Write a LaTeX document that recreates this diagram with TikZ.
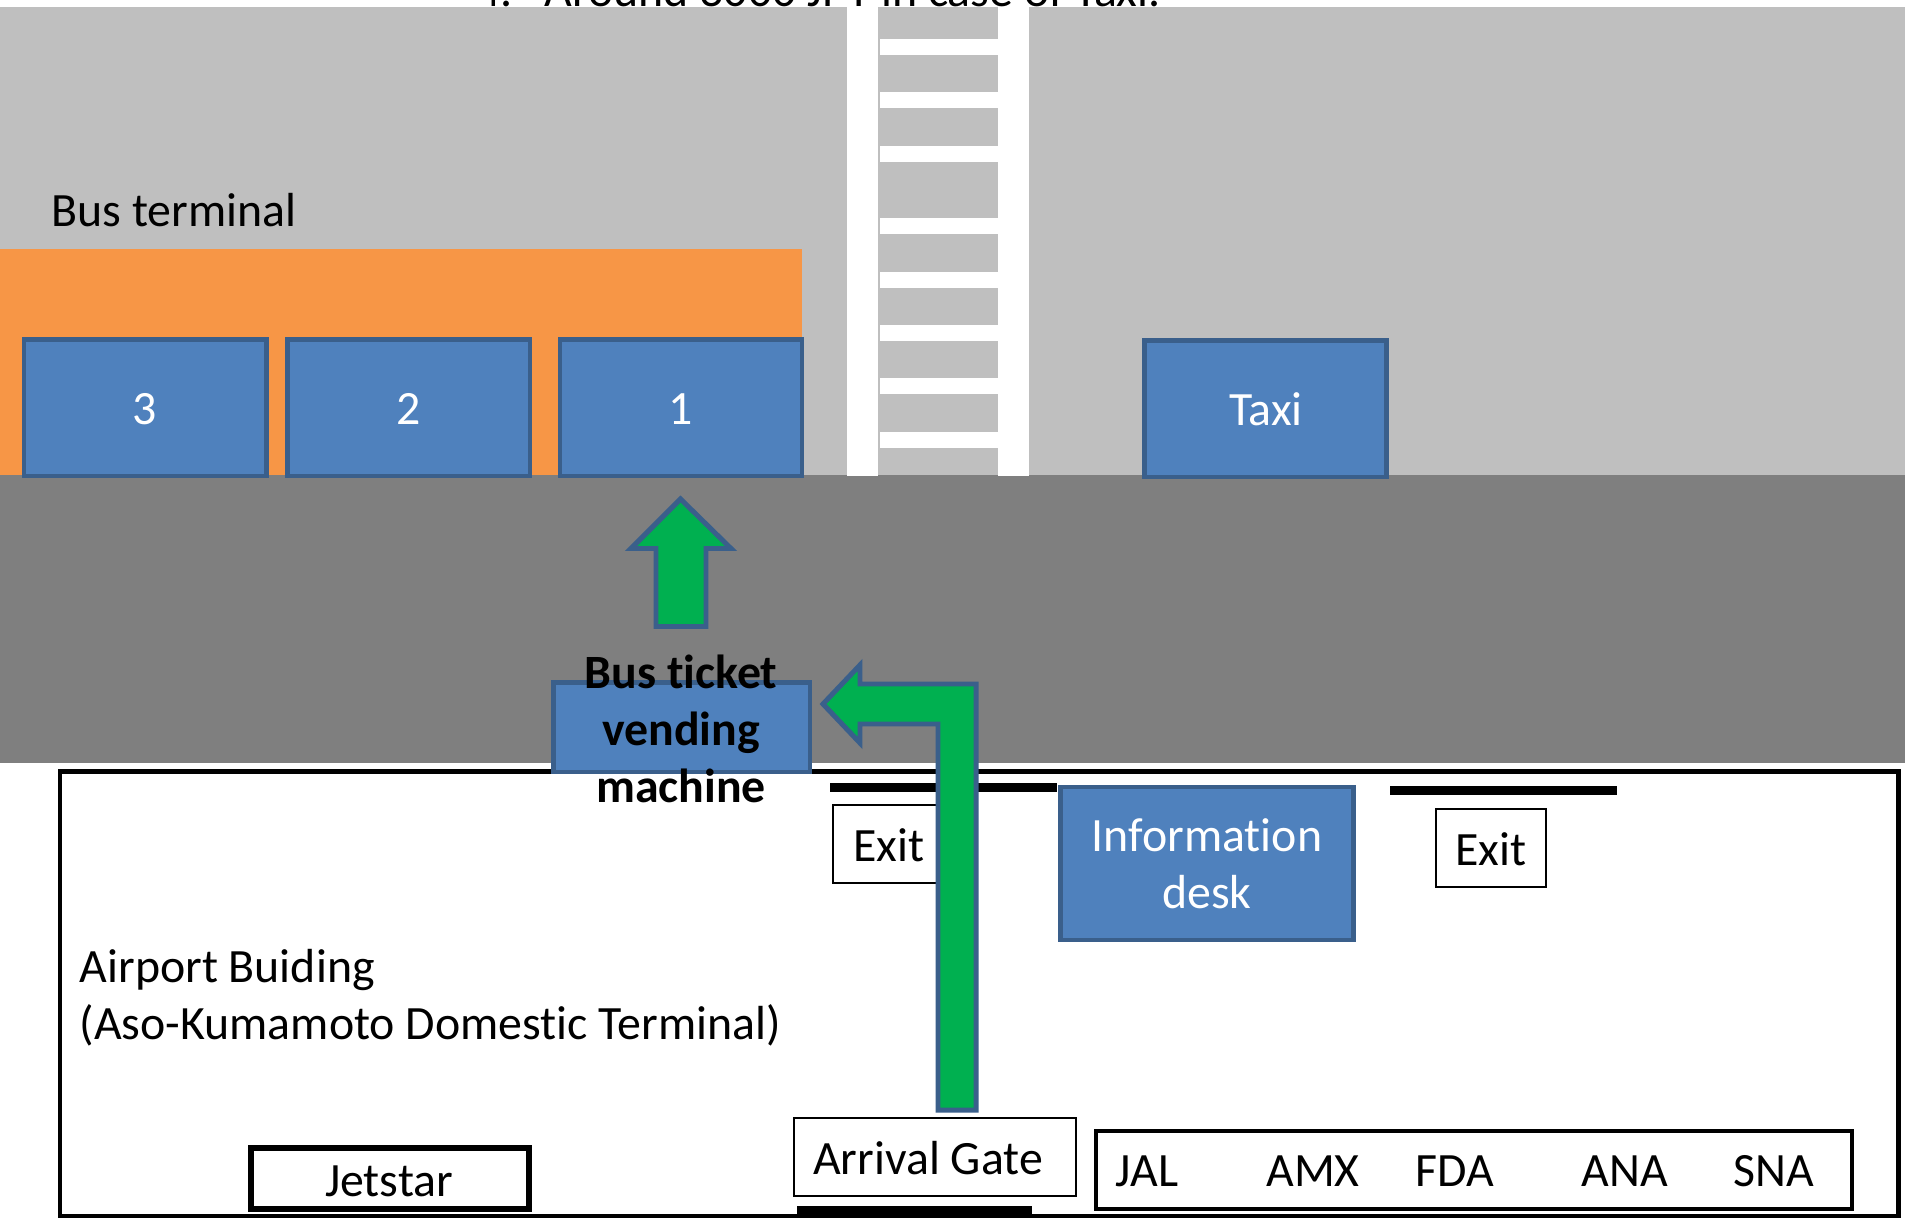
\documentclass[tikz,border=0pt]{standalone}
\usepackage{fontspec}
\setmainfont[Ligatures=NoCommon]{Carlito}
\definecolor{road}{HTML}{BFBFBF}
\definecolor{lobby}{HTML}{7F7F7F}
\definecolor{bay}{HTML}{F79646}
\definecolor{boxfill}{HTML}{4F81BD}
\definecolor{boxline}{HTML}{3A5F8B}
\definecolor{go}{HTML}{00B050}
\tikzset{
  x=0.01cm,y=-0.01cm,
  px/.style={line width=#1*0.2835pt},
  lbl/.style={font=\fontsize{13.6pt}{16.2pt}\selectfont,inner sep=0pt,align=center},
  lblw/.style={lbl,text=white},
  blue box/.style={draw=boxline,fill=boxfill,px=5,line join=miter},
  arrowshape/.style={draw=boxline,fill=go,px=5,line join=miter},
  whitebox/.style={draw=black,fill=white},
  bar/.style={fill=black,draw=none}
}
\begin{document}
\begin{tikzpicture}
\useasboundingbox (0,0) rectangle (1905,1218);
\fill[white] (0,0) rectangle (1905,1218);
% text cut off at the top, as in the reference
\node[anchor=base west,inner sep=0pt,font=\fontsize{13.6pt}{16.2pt}\selectfont] (toptext) at (476,6.5) {4.\hspace{9pt}Around 3000 JPY in case of Taxi.};
% ground
\fill[road] (0,7) rectangle (1905,475);
\fill[lobby] (0,475) rectangle (1905,763);
\fill[bay] (0,249) rectangle (802,475);
% crossing
\fill[white] (847,7) rectangle (878,476);
\fill[white] (998,7) rectangle (1029,476);
\foreach \ya/\yb in {39/55,92/108,146/162,218/234,272/288,325/341,378/394,432/448}
  \fill[white] (880,\ya) rectangle (998,\yb);
% bays
\node[lbl,anchor=west] (busterm) at (51,210) {Bus terminal};
\draw[blue box] (24,339.5) rectangle (266.5,476);
\node[lblw] (b3) at (145,409) {3};
\draw[blue box] (287.5,339.5) rectangle (530,476);
\node[lblw] (b2) at (409,409) {2};
\draw[blue box] (560,339.5) rectangle (802,476);
\node[lblw] (b1) at (681,409) {1};
\draw[blue box] (1144.5,340.5) rectangle (1386.5,477);
\node[lblw] (taxi) at (1266,409) {Taxi};
% building
\draw[draw=black,fill=white,px=5] (60,771.5) rectangle (1898,1216);
\fill[bar] (830,783) rectangle (1057,792);
\fill[bar] (1390,786) rectangle (1617,795);
\fill[bar] (797,1206) rectangle (1032,1216);
\node[whitebox,px=2,minimum width=112*0.01cm,minimum height=78*0.01cm,inner sep=0pt] (exit1) at (889,844) {};
\node[lbl] (exit1t) at (889,845) {Exit};
\node[whitebox,px=2,minimum width=110*0.01cm,minimum height=78*0.01cm,inner sep=0pt] (exit2) at (1491,848) {};
\node[lbl] (exit2t) at (1491,849) {Exit};
\draw[blue box] (1060,787) rectangle (1353,940);
\node[lblw] (info) at (1207,864) {Information\\desk};
\node[lbl,align=left,anchor=west] (bld) at (79,998) {Airport Buiding\\(Aso-Kumamoto Domestic Terminal)};
\draw[black,fill=white,px=5.5] (251,1148) rectangle (529,1209);
\node[lbl] (jet) at (389,1181) {Jetstar};
\draw[black,fill=white,px=2] (794,1118) rectangle (1076,1196);
\node[lbl] (gate) at (928,1158) {Arrival Gate};
\draw[black,fill=white,px=4] (1096,1131) rectangle (1852,1209);
\node[lbl] (jal) at (1147,1171) {JAL};
\node[lbl] (amx) at (1313,1171) {AMX};
\node[lbl] (fda) at (1455,1171) {FDA};
\node[lbl] (ana) at (1625,1171) {ANA};
\node[lbl] (sna) at (1774,1171) {SNA};
% ticket machine
\draw[blue box] (553.5,682.5) rectangle (810,772);
\node[lbl,font=\fontsize{13.6pt}{16.2pt}\selectfont\bfseries] (ticket) at (681,729) {Bus ticket\\vending\\machine};
% arrows
\draw[arrowshape] (680.5,499) -- (731,548.5) -- (706,548.5) -- (706,626.5) -- (656,626.5) -- (656,548.5) -- (631,548.5) -- cycle;
\draw[arrowshape] (823,704) -- (860,665) -- (860,684) -- (976,684) -- (976,1110) -- (938,1110) -- (938,724) -- (860,724) -- (860,743) -- cycle;
\end{tikzpicture}
\end{document}
